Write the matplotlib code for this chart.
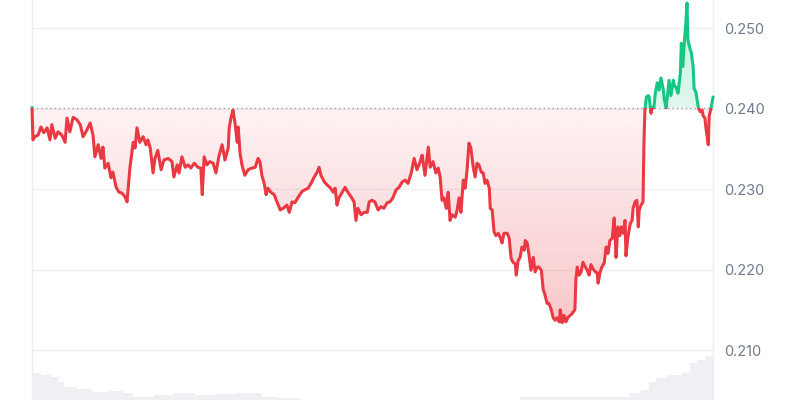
import numpy as np
import matplotlib.pyplot as plt
import matplotlib.colors as mcolors
from matplotlib.patches import Rectangle
from matplotlib.path import Path

# 24h price, minutes since start of the window
minutes = [0, 2, 6, 13, 19, 25, 32, 38, 42, 49, 55, 63, 70, 74, 80, 87, 95, 102, 108, 114,
           123, 129, 133, 140, 146, 150, 154, 161, 167, 171, 178, 184, 190, 197, 201, 207, 214, 218, 222, 228,
           235, 241, 245, 250, 256, 260, 266, 273, 279, 288, 296, 300, 307, 311, 317, 324, 330, 336, 343, 351,
           357, 360, 364, 370, 376, 383, 389, 395, 402, 408, 415, 417, 421, 425, 429, 434, 436, 440, 444, 450,
           457, 465, 472, 478, 482, 486, 491, 495, 499, 505, 512, 518, 525, 531, 539, 544, 550, 556, 563, 571,
           577, 584, 590, 596, 603, 607, 611, 618, 624, 630, 637, 641, 645, 649, 656, 662, 668, 675, 681, 685,
           689, 696, 702, 709, 713, 719, 725, 732, 738, 744, 751, 757, 763, 770, 776, 783, 789, 795, 802, 808,
           814, 821, 825, 831, 838, 842, 848, 854, 859, 863, 867, 871, 876, 880, 884, 888, 895, 899, 903, 907,
           912, 916, 920, 924, 928, 933, 937, 941, 945, 950, 954, 958, 962, 967, 969, 973, 977, 981, 986, 990,
           994, 998, 1005, 1009, 1013, 1017, 1022, 1024, 1028, 1032, 1036, 1041, 1043, 1047, 1051, 1055, 1060, 1064, 1068, 1072,
           1077, 1081, 1085, 1089, 1093, 1098, 1102, 1106, 1110, 1115, 1117, 1121, 1125, 1129, 1134, 1138, 1142, 1144, 1148, 1150,
           1153, 1157, 1161, 1165, 1170, 1174, 1178, 1182, 1186, 1191, 1195, 1197, 1201, 1205, 1210, 1214, 1218, 1222, 1227, 1231,
           1233, 1235, 1239, 1243, 1246, 1250, 1254, 1256, 1260, 1265, 1269, 1271, 1275, 1279, 1282, 1284, 1288, 1292, 1294, 1296,
           1299, 1303, 1305, 1309, 1311, 1315, 1318, 1322, 1326, 1330, 1335, 1337, 1341, 1345, 1347, 1351, 1356, 1358, 1362, 1366,
           1371, 1373, 1376, 1379, 1383, 1385, 1387, 1392, 1394, 1398, 1400, 1404, 1409, 1413, 1417, 1419, 1423, 1425, 1430, 1432,
           1436, 1440]
price = [0.2401, 0.2361, 0.2365, 0.2367, 0.2377, 0.2370, 0.2376, 0.2361, 0.2380, 0.2363, 0.2371, 0.2367, 0.2358, 0.2388, 0.2371, 0.2389, 0.2386, 0.2380, 0.2365, 0.2371,
         0.2382, 0.2367, 0.2340, 0.2355, 0.2338, 0.2352, 0.2326, 0.2332, 0.2314, 0.2321, 0.2302, 0.2296, 0.2295, 0.2290, 0.2284, 0.2326, 0.2358, 0.2351, 0.2376, 0.2358,
         0.2365, 0.2355, 0.2361, 0.2351, 0.2320, 0.2338, 0.2348, 0.2324, 0.2336, 0.2338, 0.2334, 0.2315, 0.2330, 0.2320, 0.2340, 0.2327, 0.2330, 0.2326, 0.2332, 0.2327,
         0.2326, 0.2293, 0.2340, 0.2330, 0.2334, 0.2332, 0.2320, 0.2340, 0.2355, 0.2336, 0.2351, 0.2376, 0.2389, 0.2398, 0.2383, 0.2358, 0.2377, 0.2344, 0.2330, 0.2317,
         0.2324, 0.2326, 0.2327, 0.2338, 0.2334, 0.2317, 0.2307, 0.2293, 0.2301, 0.2296, 0.2293, 0.2284, 0.2274, 0.2276, 0.2280, 0.2271, 0.2284, 0.2283, 0.2290, 0.2297,
         0.2299, 0.2301, 0.2307, 0.2314, 0.2321, 0.2327, 0.2317, 0.2309, 0.2305, 0.2302, 0.2296, 0.2301, 0.2280, 0.2289, 0.2296, 0.2302, 0.2296, 0.2290, 0.2284, 0.2261,
         0.2276, 0.2268, 0.2271, 0.2271, 0.2284, 0.2286, 0.2284, 0.2274, 0.2278, 0.2276, 0.2283, 0.2284, 0.2289, 0.2299, 0.2302, 0.2309, 0.2311, 0.2307, 0.2320, 0.2338,
         0.2324, 0.2334, 0.2342, 0.2317, 0.2352, 0.2327, 0.2334, 0.2320, 0.2326, 0.2315, 0.2286, 0.2289, 0.2276, 0.2296, 0.2261, 0.2268, 0.2265, 0.2274, 0.2289, 0.2271,
         0.2311, 0.2301, 0.2324, 0.2357, 0.2351, 0.2327, 0.2315, 0.2332, 0.2330, 0.2321, 0.2320, 0.2307, 0.2311, 0.2301, 0.2276, 0.2274, 0.2247, 0.2242, 0.2245, 0.2240,
         0.2233, 0.2245, 0.2245, 0.2239, 0.2214, 0.2209, 0.2207, 0.2193, 0.2211, 0.2215, 0.2228, 0.2224, 0.2236, 0.2233, 0.2218, 0.2199, 0.2215, 0.2197, 0.2203, 0.2203,
         0.2199, 0.2175, 0.2168, 0.2158, 0.2158, 0.2150, 0.2140, 0.2137, 0.2140, 0.2135, 0.2150, 0.2134, 0.2143, 0.2135, 0.2141, 0.2143, 0.2145, 0.2147, 0.2150, 0.2187,
         0.2203, 0.2193, 0.2197, 0.2209, 0.2203, 0.2199, 0.2193, 0.2206, 0.2201, 0.2197, 0.2196, 0.2183, 0.2196, 0.2203, 0.2208, 0.2228, 0.2220, 0.2236, 0.2239, 0.2264,
         0.2242, 0.2215, 0.2253, 0.2242, 0.2253, 0.2245, 0.2261, 0.2217, 0.2240, 0.2257, 0.2261, 0.2276, 0.2284, 0.2286, 0.2253, 0.2274, 0.2280, 0.2284, 0.2357, 0.2398,
         0.2414, 0.2416, 0.2414, 0.2394, 0.2401, 0.2401, 0.2419, 0.2432, 0.2423, 0.2438, 0.2423, 0.2411, 0.2401, 0.2423, 0.2435, 0.2416, 0.2435, 0.2429, 0.2426, 0.2419,
         0.2444, 0.2481, 0.2452, 0.2479, 0.2510, 0.2531, 0.2485, 0.2473, 0.2470, 0.2452, 0.2425, 0.2420, 0.2401, 0.2396, 0.2398, 0.2391, 0.2388, 0.2376, 0.2355, 0.2391,
         0.2401, 0.2414]

# traded volume (arbitrary units), step series
vol_minutes = [0, 19, 40, 57, 68, 95, 127, 161, 192, 214, 258, 300, 345, 387, 431, 452, 486, 518, 567,
               1032, 1233, 1264, 1288, 1305, 1319, 1343, 1374, 1391, 1406, 1423, 1440]
volume = [27, 25, 23, 18, 13, 11, 8, 9, 7, 3, 5, 7, 5, 6, 7, 7, 3, 2, 0,
          3, 3, 7, 10, 18, 22, 25, 27, 37, 40, 44, 45]

ticks = [0.210, 0.220, 0.230, 0.240, 0.250]
tick_labels = ["0.210", "0.220", "0.230", "0.240", "0.250"]

RED = "#ea3943"
GREEN = "#16c784"
T0, T1 = 0, 1440
Y0, Y1 = 0.20379, 0.25348

t = np.array(minutes)
p = np.array(price)
base = p[0]

fig = plt.figure(figsize=(8, 4), dpi=100)
rect = [0.04, 0.0, 0.85125, 1.0]

# volume underneath
axv = fig.add_axes(rect, zorder=0)
axv.fill_between(vol_minutes, volume, step="post", color="#eef0f4", lw=0)
axv.set_xlim(T0, T1)
axv.set_ylim(0, 400)
axv.axis("off")

ax = fig.add_axes(rect, zorder=1)
ax.patch.set_alpha(0)


def gradient_fill(ax, where, lo, hi, color, a_lo, a_hi):
    coll = ax.fill_between(t, p, base, where=where, interpolate=True, color="none", lw=0)
    path = Path.make_compound_path(*coll.get_paths())
    img = np.zeros((256, 1, 4))
    img[:, 0, :3] = mcolors.to_rgb(color)
    img[:, 0, 3] = np.linspace(a_lo, a_hi, 256)
    im = ax.imshow(img, aspect="auto", extent=[T0, T1, lo, hi], origin="lower",
                   interpolation="bilinear", zorder=1)
    im.set_clip_path(path, ax.transData)


gradient_fill(ax, p <= base, p.min(), base, RED, 0.28, 0.06)
gradient_fill(ax, p >= base, base, p.max(), GREEN, 0.13, 0.28)

for col, lo, hi in [(RED, Y0 - 1, base), (GREEN, base, Y1 + 1)]:
    ln, = ax.plot(t, p, color=col, lw=2.2, solid_joinstyle="round", zorder=3)
    clip = Rectangle((T0 - 100, lo), T1 - T0 + 200, hi - lo, transform=ax.transData)
    ln.set_clip_path(clip)

ax.axhline(base, color="#9a9fa8", lw=1, ls=(0, (1, 2.2)), zorder=2)

ax.set_xlim(T0, T1)
ax.set_ylim(Y0, Y1)
ax.set_xticks([])
ax.set_yticks(ticks)
ax.set_yticklabels(tick_labels)
ax.yaxis.tick_right()
ax.tick_params(axis="y", length=0, pad=8, labelsize=10.5, labelcolor="#6f7a8f")
for lab in ax.get_yticklabels():
    lab.set_fontfamily("Inter")
ax.grid(axis="y", color="#eff0f3", lw=1, zorder=0)
ax.set_axisbelow(True)
for s in ["top", "bottom"]:
    ax.spines[s].set_visible(False)
for s in ["left", "right"]:
    ax.spines[s].set_color("#eceef1")
    ax.spines[s].set_linewidth(1)

fig.savefig("out.png", dpi=100, facecolor="white")
